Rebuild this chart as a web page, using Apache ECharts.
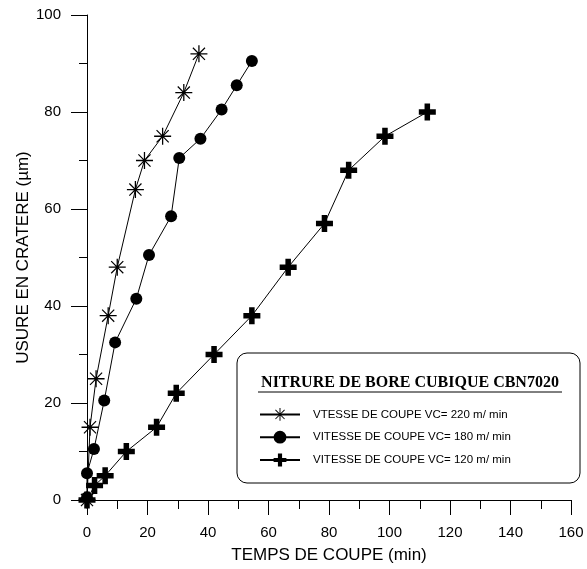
<!DOCTYPE html>
<html>
<head>
<meta charset="utf-8">
<script src="https://cdn.jsdelivr.net/npm/echarts@6/dist/echarts.min.js"></script>
<style>
  html, body { margin: 0; padding: 0; background: #fff; }
  #chartDiv { width: 587px; height: 569px; }
</style>
</head>
<body>
<div id="chartDiv"></div>
<script>
// data: [temps (min), usure (µm)]
var vc220 = [[0, 0], [1, 15], [3, 25], [7, 38], [10, 48], [16, 64], [19, 70], [25, 75], [32, 84], [37, 92]];
var vc180 = [[0, 0.5], [0, 5.5], [2.3, 10.5], [5.7, 20.5], [9.3, 32.5], [16.3, 41.5], [20.5, 50.5], [27.8, 58.5],
  [30.5, 70.5], [37.5, 74.5], [44.5, 80.5], [49.5, 85.5], [54.5, 90.5]];
var vc120 = [[0, 0], [2.5, 3], [6, 5], [13, 10], [23, 15], [29.5, 22], [42, 30], [54.5, 38], [66.5, 48],
  [78.5, 57], [86.5, 68], [98.5, 75], [112.5, 80]];
var seriesNames = ["VTESSE DE COUPE VC= 220 m/ min", "VITESSE DE COUPE VC= 180 m/ min", "VITESSE DE COUPE VC= 120 m/ min"];
var boxTitle = "NITRURE DE BORE CUBIQUE CBN7020";

var starPath = "path://M-8,-0.6H8V0.6H-8Z M-0.6,-8H0.6V8H-0.6Z M-5.3,-6.1L6.1,5.3L5.3,6.1L-6.1,-5.3Z M-6.1,5.3L5.3,-6.1L6.1,-5.3L-5.3,6.1Z";
var plusPath = "path://M-2.6,-8H2.6V-2.6H8V2.6H2.6V8H-2.6V2.6H-8V-2.6H-2.6Z";

var myChart = echarts.init(document.getElementById("chartDiv"));

function lineSeries(name, data, symbol, size) {
  return {
    name: name,
    type: "line",
    data: data,
    symbol: symbol,
    symbolSize: size,
    showAllSymbol: true,
    itemStyle: { color: "#000" },
    lineStyle: { color: "#000", width: 1 },
    emphasis: { disabled: true },
    animation: false
  };
}

var axisText = { color: "#000", fontFamily: "Liberation Sans", fontSize: 15 };

var option = {
  backgroundColor: "#fff",
  animation: false,
  grid: { left: 87, right: 16, top: 15, bottom: 66 },
  xAxis: {
    type: "value",
    min: 0, max: 160, interval: 20,
    name: "TEMPS DE COUPE (min)",
    nameLocation: "middle",
    nameGap: 47,
    nameMoveOverlap: false,
    nameTextStyle: { color: "#000", fontFamily: "Liberation Sans", fontSize: 17 },
    axisLine: { show: true, onZero: false, lineStyle: { color: "#000", width: 1 } },
    axisTick: { show: true, length: 15, lineStyle: { color: "#000" } },
    minorTick: { show: true, splitNumber: 2, length: 9, lineStyle: { color: "#000" } },
    axisLabel: Object.assign({ margin: 25 }, axisText),
    splitLine: { show: false }
  },
  yAxis: {
    type: "value",
    min: 0, max: 100, interval: 20,
    name: "USURE EN CRATERE (µm)",
    nameLocation: "middle",
    nameGap: 55,
    nameMoveOverlap: false,
    nameTextStyle: { color: "#000", fontFamily: "Liberation Sans", fontSize: 17 },
    axisLine: { show: true, onZero: false, lineStyle: { color: "#000", width: 1 } },
    axisTick: { show: true, length: 16, lineStyle: { color: "#000" } },
    minorTick: { show: true, splitNumber: 2, length: 8, lineStyle: { color: "#000" } },
    axisLabel: Object.assign({ margin: 26 }, axisText),
    splitLine: { show: false }
  },
  legend: {
    orient: "vertical",
    left: 254,
    top: 403,
    itemWidth: 40,
    itemHeight: 16,
    itemGap: 10,
    z: 10,
    textStyle: { color: "#000", fontFamily: "Liberation Sans", fontSize: 11.5, padding: [0, 0, 0, 8] },
    data: seriesNames
  },
  graphic: [
    {
      type: "rect",
      z: 5,
      shape: { x: 237, y: 353, width: 343, height: 130, r: 10 },
      style: { fill: "#fff", stroke: "#000", lineWidth: 1 }
    },
    {
      type: "text",
      z: 6,
      x: 410, y: 383,
      style: {
        text: boxTitle, fill: "#000", font: "bold 16px 'Liberation Serif'",
        align: "center", verticalAlign: "middle"
      }
    },
    {
      type: "line",
      z: 6,
      shape: { x1: 258, y1: 392, x2: 562, y2: 392 },
      style: { stroke: "#000", lineWidth: 1 }
    }
  ],
  series: [
    lineSeries(seriesNames[0], vc220, starPath, 17),
    lineSeries(seriesNames[1], vc180, "circle", 12),
    lineSeries(seriesNames[2], vc120, plusPath, 17)
  ]
};

myChart.setOption(option);
</script>
</body>
</html>
